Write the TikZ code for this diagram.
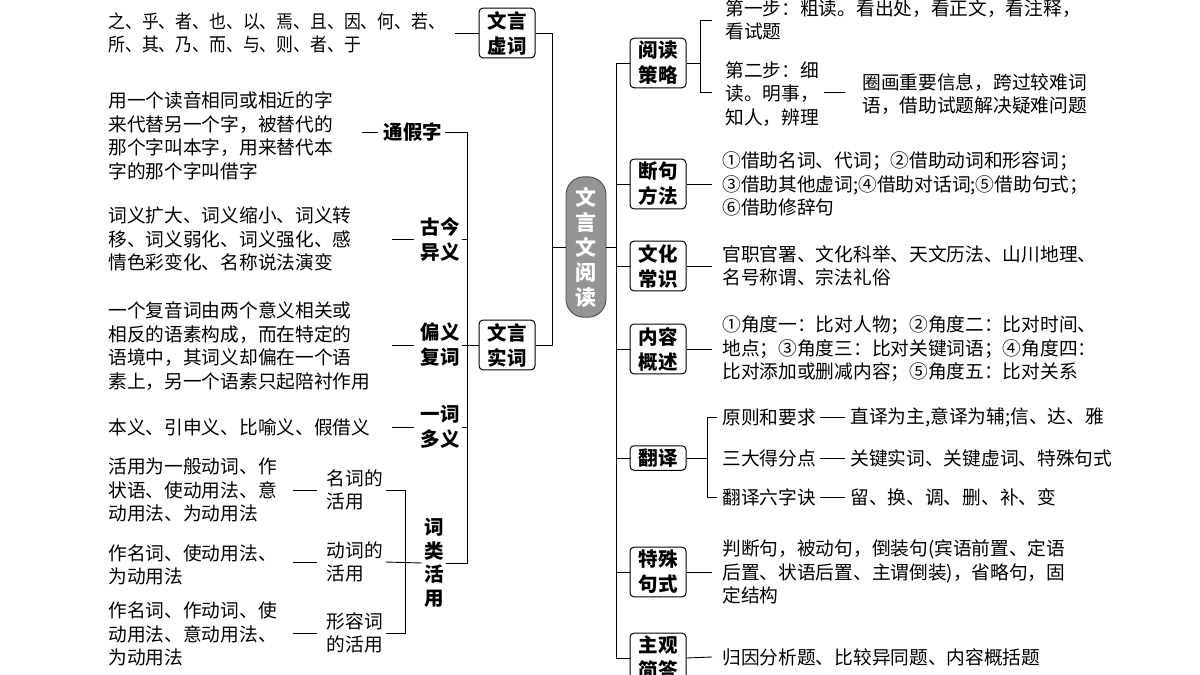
\documentclass[tikz,border=0pt]{standalone}
\usepackage{fontspec}
\setmainfont{Noto Sans CJK SC}
\newcommand{\bd}{\fontsize{18.7}{23.5}\selectfont}
\newcommand{\hb}{\fontsize{19.5}{25}\selectfont\bfseries}
\begin{document}
\begin{tikzpicture}[x=1pt,y=-1pt,line width=0.9pt,
  lbl/.style={draw,rounded corners=4pt,line width=1pt,font=\hb,align=center,inner sep=3pt,minimum width=56pt},
  sub/.style={font=\hb,align=center,inner sep=2pt},
  ssub/.style={font=\bd,align=left,inner sep=2pt},
  txt/.style={anchor=west,align=left,font=\bd,inner sep=0pt}]
\useasboundingbox (0,0) rectangle (1200,675);
% centre
\node[draw=black!70,fill=black!42,text=white,rounded corners=18pt,font=\fontsize{21}{25}\selectfont\bfseries,align=center,inner xsep=4pt,inner ysep=10pt,minimum width=40pt] (root) at (586,247) {文\\言\\文\\阅\\读};
% left main
\node[lbl] (xuci) at (507,33) {文言\\虚词};
\node[lbl] (shici) at (507,345) {文言\\实词};
\draw (root.west) -- (552,247);
\draw (xuci.east) -- (552,33) -- (552,345) -- (shici.east);
\node[txt] (xt) at (108,33) {\scalebox{0.9}[1]{之、乎、者、也、以、焉、且、因、何、若、}\\\scalebox{0.9}[1]{所、其、乃、而、与、则、者、于}};
\draw (xuci.west) -- (455,33);
% shici children
\node[sub] (tj) at (413,132) {通假字};
\node[sub] (gj) at (440,239) {古今\\异义};
\node[sub] (py) at (440,345) {偏义\\复词};
\node[sub] (yc) at (440,427) {一词\\多义};
\node[sub,font=\fontsize{19.5}{23.5}\selectfont\bfseries] (cl) at (434,563) {词\\类\\活\\用};
\draw (tj.east) -- (467,132) -- (467,563) -- (cl.east);
\draw (gj.east) -- (467,239);
\draw (py.east) -- (467,345);
\draw (yc.east) -- (467,427);
\draw (shici.west) -- (467,345);
\node[txt] (tjt) at (108,136) {用一个读音相同或相近的字\\来代替另一个字，被替代的\\那个字叫本字，用来替代本\\字的那个字叫借字};
\draw ([xshift=-3pt]tj.west) -- ++(-16,0);
\node[txt] (gjt) at (108,239) {词义扩大、词义缩小、词义转\\移、词义弱化、词义强化、感\\情色彩变化、名称说法演变};
\draw ([xshift=-4pt]gj.west) -- ++(-22,0);
\node[txt] (pyt) at (108,346) {一个复音词由两个意义相关或\\相反的语素构成，而在特定的\\语境中，其词义却偏在一个语\\素上，另一个语素只起陪衬作用};
\draw ([xshift=-4pt]py.west) -- ++(-22,0);
\node[txt] (yct) at (108,427) {本义、引申义、比喻义、假借义};
\draw ([xshift=-4pt]yc.west) -- ++(-22,0);
% word class
\node[ssub] (mc) at (355,490) {名词的\\活用};
\node[ssub] (dc) at (355,562) {动词的\\活用};
\node[ssub] (xr) at (355,633) {形容词\\的活用};
\draw (mc.east) -- (405,490) -- (405,633) -- (xr.east);
\draw (dc.east) -- (cl.west);
\node[txt] (mct) at (108,490) {活用为一般动词、作\\状语、使动用法、意\\动用法、为动用法};
\node[txt] (dct) at (108,565) {作名词、使动用法、\\为动用法};
\node[txt] (xrt) at (108,634) {作名词、作动词、使\\动用法、意动用法、\\为动用法};
\draw ([xshift=-8pt]mc.west) -- ++(-24,0);
\draw ([xshift=-8pt]dc.west) -- ++(-24,0);
\draw ([xshift=-8pt]xr.west) -- ++(-24,0);
% right main
\node[lbl] (yd) at (658,63) {阅读\\策略};
\node[lbl] (dj) at (658,184) {断句\\方法};
\node[lbl] (wh) at (658,266) {文化\\常识};
\node[lbl] (nr) at (658,349) {内容\\概述};
\node[lbl] (fy) at (658,458) {翻译};
\node[lbl] (ts) at (658,572) {特殊\\句式};
\node[lbl] (zg) at (658,658) {主观\\简答};
\draw (root.east) -- (616,247);
\draw (yd.west) -- (616,63) -- (616,658) -- (zg.west);
\foreach \n/\y in {dj/184,wh/266,nr/349,fy/458,ts/572} \draw (\n.west) -- (616,\y);
% yuedu
\node[txt] (s1) at (725,20) {第一步：粗读。看出处，看正文，看注释，\\看试题};
\node[txt] (s2) at (725,94) {第二步：细\\读。明事，\\知人，辨理};
\draw (yd.east) -- (700,63);
\draw (712,20) -- (700,20) -- (700,92) -- (712,92);
\node[txt] (q) at (862,94) {圈画重要信息，跨过较难词\\语，借助试题解决疑难问题};
\draw (824,92) -- (845,92);
% others
\node[txt] (djt) at (722,184) {①借助名词、代词；②借助动词和形容词；\\③借助其他虚词;④借助对话词;⑤借助句式；\\⑥借助修辞句};
\draw (dj.east) -- (712,184);
\node[txt] (wht) at (722,266) {官职官署、文化科举、天文历法、山川地理、\\名号称谓、宗法礼俗};
\draw (wh.east) -- (712,266);
\node[txt] (nrt) at (722,349) {①角度一：比对人物；②角度二：比对时间、\\地点；③角度三：比对关键词语；④角度四：\\比对添加或删减内容；⑤角度五：比对关系};
\draw (nr.east) -- (712,349);
\node[txt] (tst) at (722,572) {判断句，被动句，倒装句(宾语前置、定语\\后置、状语后置、主谓倒装)，省略句，固\\定结构};
\draw (ts.east) -- (712,572);
\node[txt] (zgt) at (722,657) {归因分析题、比较异同题、内容概括题};
\draw (zg.east) -- (712,657);
% fanyi
\draw (fy.east) -- (707,458);
\draw (717,417) -- (707,417) -- (707,497) -- (717,497);
\node[txt] (f1) at (722,417) {原则和要求};
\node[txt] (f1b) at (850,417) {直译为主,意译为辅;信、达、雅};
\node[txt] (f2) at (722,458) {三大得分点};
\node[txt] (f2b) at (850,458) {关键实词、关键虚词、特殊句式};
\node[txt] (f3) at (722,497) {翻译六字诀};
\node[txt] (f3b) at (850,497) {留、换、调、删、补、变};
\draw ([xshift=4pt]f1.east) -- ([xshift=-5pt]f1b.west);
\draw ([xshift=4pt]f2.east) -- ([xshift=-5pt]f2b.west);
\draw ([xshift=4pt]f3.east) -- ([xshift=-5pt]f3b.west);
\end{tikzpicture}
\end{document}
